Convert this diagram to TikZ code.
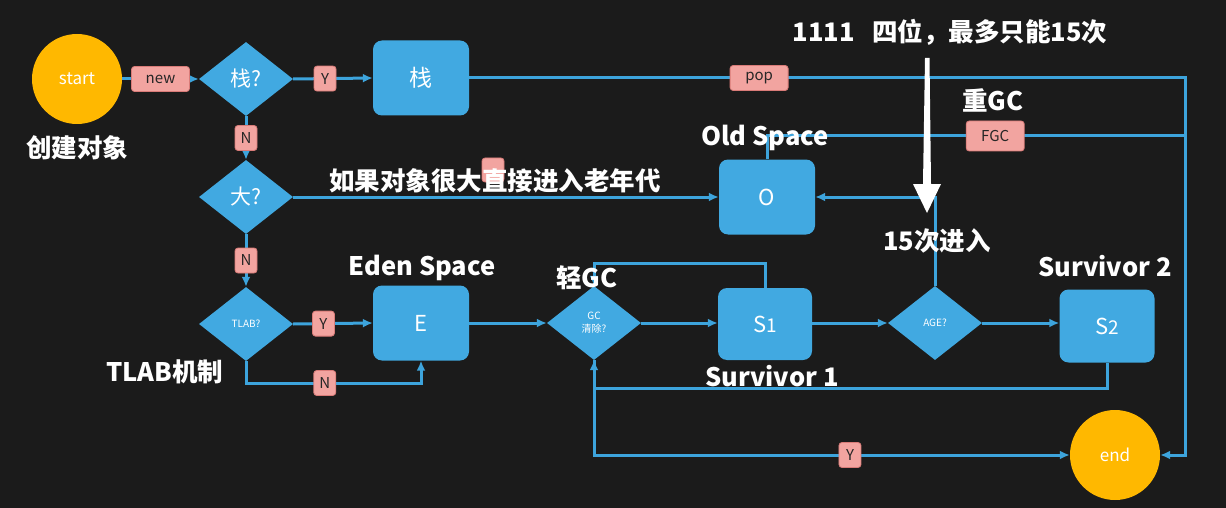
\documentclass[tikz,border=0pt]{standalone}
\usepackage{fontspec}
\setmainfont{Noto Sans CJK SC}
\usetikzlibrary{shapes.geometric,arrows.meta}
\definecolor{bg}{HTML}{1B1B1B}
\definecolor{bl}{HTML}{41A9E1}
\definecolor{ln}{HTML}{3DA4DC}
\definecolor{pk}{HTML}{F2A4A0}
\definecolor{pkd}{HTML}{D97B78}
\definecolor{og}{HTML}{FFB800}
\tikzset{
  flow/.style={draw=ln, line width=3pt, -{Latex[length=10pt,width=9pt]}},
  plain/.style={draw=ln, line width=3pt},
  box/.style={rectangle, rounded corners=9pt, fill=bl, minimum width=96pt, minimum height=75pt, text=white, font=\fontsize{22}{24}\selectfont},
  dia/.style={diamond, fill=bl, minimum width=94pt, minimum height=74pt, inner sep=0pt, text=white, align=center},
  term/.style={circle, fill=og, minimum size=90pt, inner sep=0pt, text=white, font=\fontsize{17}{20}\selectfont},
  lab/.style={rectangle, rounded corners=3pt, fill=pk, draw=pkd, line width=0.8pt, minimum width=22pt, minimum height=25pt, inner sep=2pt, text=black!85, font=\fontsize{15}{17}\selectfont},
  wlab/.style={lab, minimum width=58pt},
  note/.style={text=white, inner sep=0pt, font=\bfseries\fontsize{25.5}{28}\selectfont},
}
\begin{document}
\begin{tikzpicture}[x=1pt,y=-1pt]
\fill[bg] (0,0) rectangle (1226,508);
\useasboundingbox (0,0) rectangle (1226,508);

% nodes
\node[term] (start) at (77,79) {start};
\node[dia, font=\fontsize{21}{24}\selectfont] (q1) at (246,79) {栈?};
\node[box, font=\fontsize{23}{26}\selectfont] (stack) at (421,78) {栈};
\node[dia, font=\fontsize{21}{24}\selectfont] (q2) at (246,197) {大?};
\node[box] (O) at (767,197) {O};
\node[dia, font=\fontsize{10}{12}\selectfont] (q3) at (246,324) {TLAB?};
\node[box] (E) at (421,323) {E};
\node[dia, font=\fontsize{10}{13}\selectfont] (gc) at (594,323) {GC\\清除?};
\node[box, minimum width=94pt, minimum height=72pt] (S1) at (765,324) {S{\fontsize{19}{20}\selectfont 1}};
\node[dia, font=\fontsize{10}{12}\selectfont] (age) at (935,323) {AGE?};
\node[box, minimum width=95pt, minimum height=73pt] (S2) at (1107,326) {S{\fontsize{19}{20}\selectfont 2}};
\node[term] (end) at (1115,455) {end};

\coordinate (rx) at (1185,78);
\coordinate (fy) at (0,136);
\coordinate (ty) at (0,263);
\coordinate (nb) at (0,383);
\coordinate (sb) at (0,388);

% connectors
\draw[flow] (start.east) -- node[wlab, pos=.5] {new} (q1.west);
\draw[flow] (q1.east) -- node[lab, pos=.4] {Y} (stack.west);
\draw[flow] (stack.east) -- node[wlab, pos=.405] {pop} (rx) |- (end.east);
\draw[plain] (O.north) |- node[wlab, pos=.773, minimum height=30pt] {FGC} (rx |- fy);
\draw[flow] (q1.south) -- node[lab] {N} (q2.north);
\draw[flow] (q2.east) -- (O.west);
\draw[flow] (q2.south) -- node[lab] {N} (q3.north);
\draw[flow] (q3.east) -- node[lab, pos=.38] {Y} (E.west);
\draw[flow] (q3.south) -- (q3.south |- nb) -- node[lab, pos=.45] {N} (E.south |- nb) -- (E.south);
\draw[flow] (E.east) -- (gc.west);
\draw[flow] (gc.east) -- (gc.east -| S1.west);
\draw[flow] (S1.north) -- (S1.north |- ty) -| (gc.north);
\draw[flow] (S1.east |- age.west) -- (age.west);
\draw[flow] (age.east) -- (age.east -| S2.west);
\draw[flow] (age.north) |- (O.east);
\draw[flow] (S2.south) -- (S2.south |- sb) -| (gc.south);
\draw[flow] (gc.south) |- node[lab, pos=.769] {Y} (end.west);

% partly hidden label behind the note
\node[lab, minimum height=24pt] (hid) at (493,170) {};

% big white arrow
\fill[white] (925,58) -- (929.5,58) -- (931,184) -- (941,184) -- (927,213) -- (913,184) -- (923,184) -- cycle;

% notes
\node[note] (t1) at (77,148) {创建对象};
\node[note] (t2) at (495,181) {如果对象很大直接进入老年代};
\node[note] (t3) at (165,372) {TLAB机制};
\node[note] (t4) at (422,268) {Eden Space};
\node[note] (t5) at (587,278) {轻GC};
\node[note] (t6) at (765,138) {Old Space};
\node[note] (t7) at (950,32) {1111\ \ \ 四位，最多只能15次};
\node[note] (t8) at (993,100) {重GC};
\node[note] (t9) at (937,241) {15次进入};
\node[note] (t10) at (1105,266) {Survivor 2};
\node[note] (t11) at (772,376) {Survivor 1};
\end{tikzpicture}
\end{document}
